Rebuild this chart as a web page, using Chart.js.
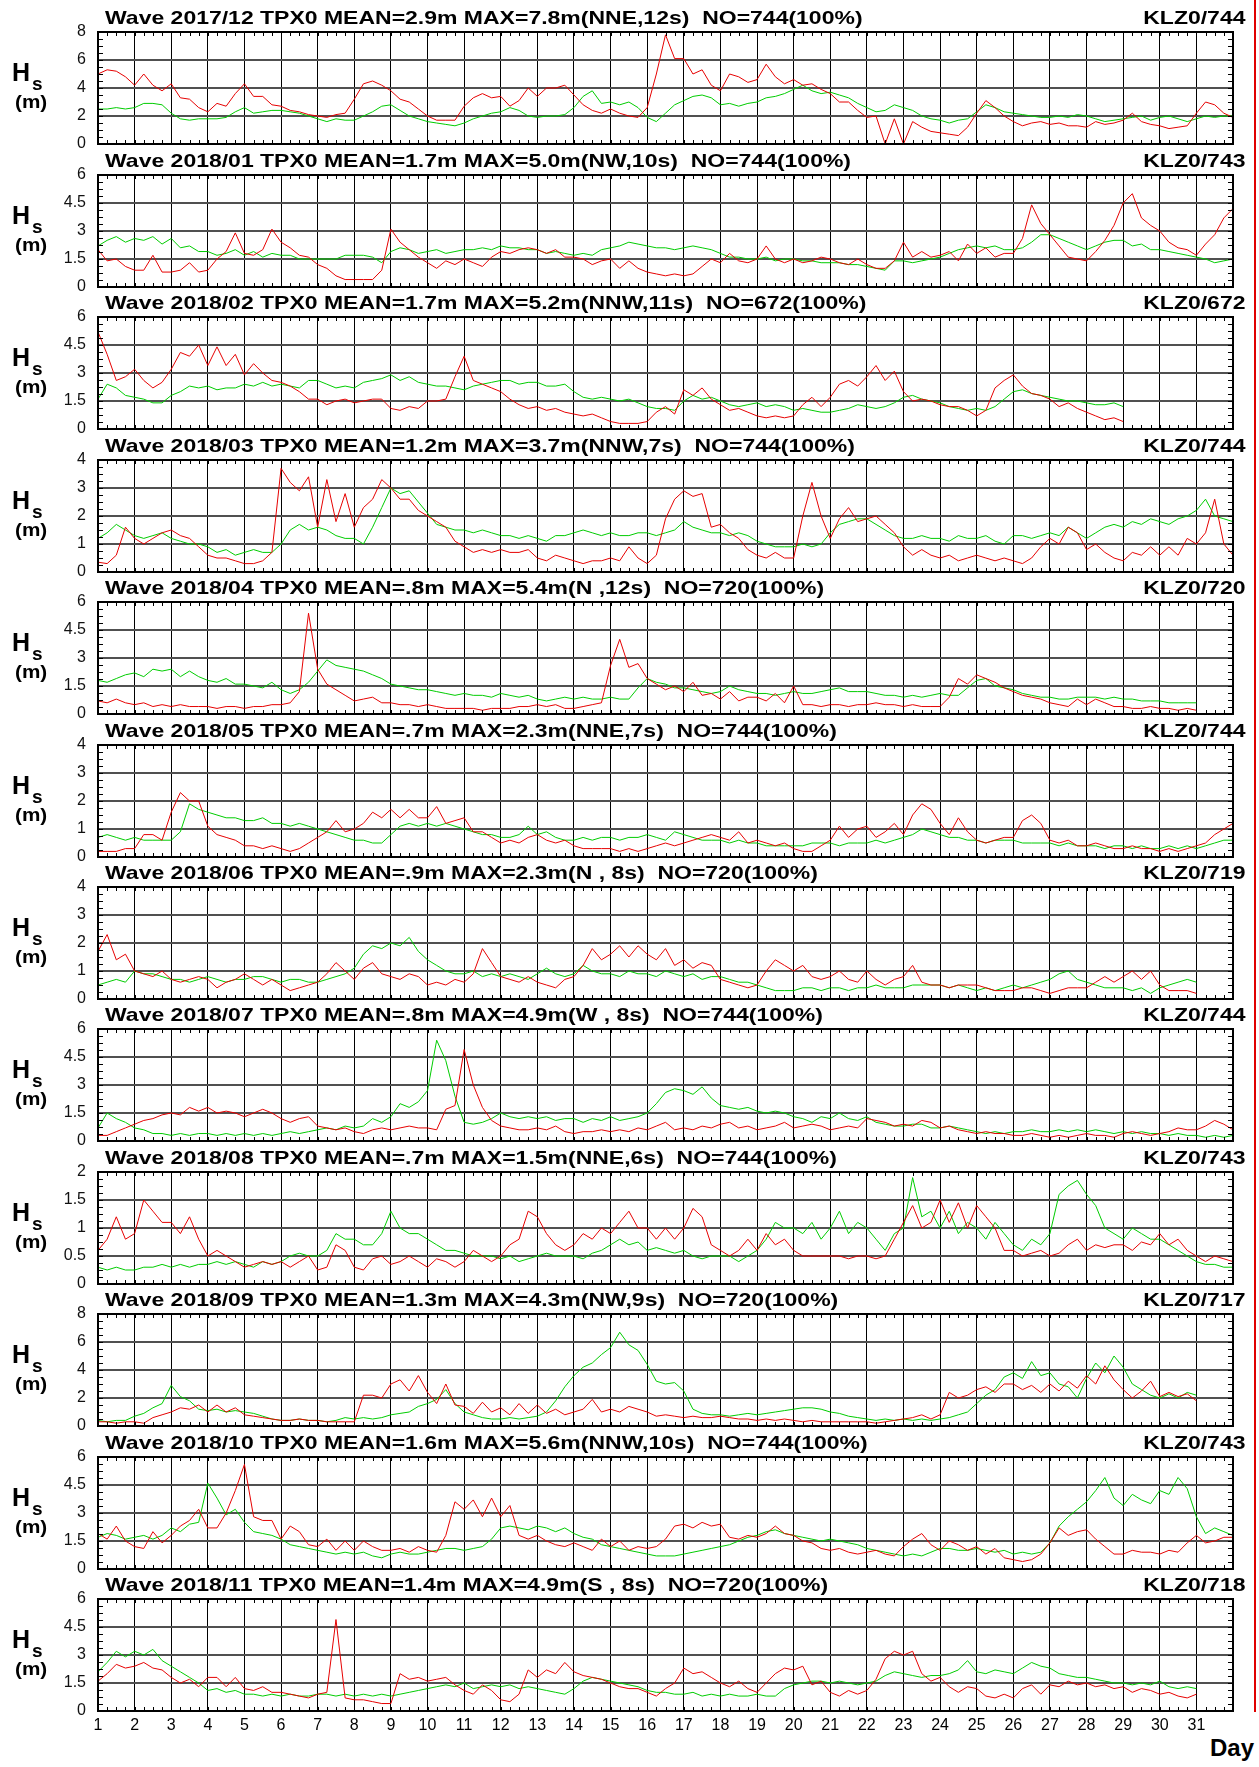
<!DOCTYPE html>
<html>
<head>
<meta charset="utf-8">
<script src="https://cdn.jsdelivr.net/npm/chart.js@4.4.1/dist/chart.umd.min.js"></script>
<style>
  body { margin: 0; background: #fff; }
  #page { position: relative; width: 1259px; height: 1767px; overflow: hidden; background: #fff;
          font-family: "Liberation Sans", Arial, sans-serif; color: #000; }
  canvas { position: absolute; left: 0; }
  .title, .code { position: absolute; font-weight: bold; font-size: 19px; line-height: 1; white-space: pre; }
  .title { left: 105px; transform: scaleX(1.21); transform-origin: 0 0; }
  .code { right: 14px; transform: scaleX(1.21); transform-origin: 100% 0; }
  .hs-h { position: absolute; left: 12px; font-weight: bold; font-size: 25px; line-height: 1; }
  .hs-s { position: absolute; left: 32px; font-weight: bold; font-size: 19px; line-height: 1; }
  .hs-m { position: absolute; left: 15px; font-weight: bold; font-size: 18px; line-height: 1; transform: scaleX(1.15); transform-origin: 0 0; }
  #day { position: absolute; right: 5px; top: 1736px; font-weight: bold; font-size: 24px; line-height: 1; }
  #edge { position: absolute; left: 1254px; top: 0; width: 2px; height: 1712px; background: #e00000; }
</style>
</head>
<body>
<div id="page">
  <div id="edge"></div>
  <div id="day">Day</div>
</div>
<script>
// one panel per month, hourly Hs sampled every 6 h (4 per day) + month end value
const samplesPerDay = 4;
const months = ['2017/12', '2018/01', '2018/02', '2018/03', '2018/04', '2018/05',
                '2018/06', '2018/07', '2018/08', '2018/09', '2018/10', '2018/11'];
const titles = [
  'Wave 2017/12 TPX0 MEAN=2.9m MAX=7.8m(NNE,12s)  NO=744(100%)',
  'Wave 2018/01 TPX0 MEAN=1.7m MAX=5.0m(NW,10s)  NO=744(100%)',
  'Wave 2018/02 TPX0 MEAN=1.7m MAX=5.2m(NNW,11s)  NO=672(100%)',
  'Wave 2018/03 TPX0 MEAN=1.2m MAX=3.7m(NNW,7s)  NO=744(100%)',
  'Wave 2018/04 TPX0 MEAN=.8m MAX=5.4m(N ,12s)  NO=720(100%)',
  'Wave 2018/05 TPX0 MEAN=.7m MAX=2.3m(NNE,7s)  NO=744(100%)',
  'Wave 2018/06 TPX0 MEAN=.9m MAX=2.3m(N , 8s)  NO=720(100%)',
  'Wave 2018/07 TPX0 MEAN=.8m MAX=4.9m(W , 8s)  NO=744(100%)',
  'Wave 2018/08 TPX0 MEAN=.7m MAX=1.5m(NNE,6s)  NO=744(100%)',
  'Wave 2018/09 TPX0 MEAN=1.3m MAX=4.3m(NW,9s)  NO=720(100%)',
  'Wave 2018/10 TPX0 MEAN=1.6m MAX=5.6m(NNW,10s)  NO=744(100%)',
  'Wave 2018/11 TPX0 MEAN=1.4m MAX=4.9m(S , 8s)  NO=720(100%)'
];
const stationCodes = ['KLZ0/744', 'KLZ0/743', 'KLZ0/672', 'KLZ0/744', 'KLZ0/720', 'KLZ0/744',
                      'KLZ0/719', 'KLZ0/744', 'KLZ0/743', 'KLZ0/717', 'KLZ0/743', 'KLZ0/718'];
const yMax = [8, 6, 6, 4, 6, 4, 4, 6, 2, 8, 6, 6];
const dayLabels = ['1','2','3','4','5','6','7','8','9','10','11','12','13','14','15','16',
                   '17','18','19','20','21','22','23','24','25','26','27','28','29','30','31'];

// red = observed
const red201712 = [
  5.0,5.3,5.2,4.8, 4.2,5.0,4.2,3.8, 4.3,3.3,3.2,2.6, 2.3,2.9,2.7,3.6,
  4.3,3.4,3.4,2.8, 2.7,2.4,2.3,2.1, 2.0,1.9,2.1,2.2, 3.2,4.3,4.5,4.2,
  3.8,3.2,3.0,2.5, 2.0,1.7,1.7,1.7, 2.7,3.3,3.6,3.3, 3.4,2.7,3.1,4.0,
  3.4,4.0,4.0,4.2, 3.5,2.8,2.4,2.2, 2.5,2.2,2.0,1.9, 2.6,5.0,7.8,6.1,
  6.1,5.0,5.3,4.2, 3.8,5.0,4.8,4.4, 4.6,5.7,4.8,4.3, 4.6,4.2,4.3,3.9,
  3.6,3.0,3.0,2.4, 1.9,2.0,0.0,1.8, 0.0,1.6,1.2,0.9, 0.8,0.7,0.6,1.2,
  2.2,3.1,2.6,2.0, 1.6,1.3,1.5,1.6, 1.4,1.5,1.3,1.3, 1.2,1.6,1.4,1.5,
  1.7,2.2,1.6,1.4, 1.3,1.1,1.2,1.3, 2.2,3.0,2.8,2.2, 1.9];
const green201712 = [
  2.5,2.5,2.6,2.5, 2.6,2.9,2.9,2.8, 2.2,1.8,1.7,1.8, 1.8,1.8,1.9,2.3,
  2.6,2.2,2.3,2.4, 2.4,2.3,2.2,2.0, 1.8,1.6,1.8,1.7, 1.7,2.0,2.3,2.7,
  2.8,2.4,2.0,1.8, 1.6,1.5,1.4,1.3, 1.5,1.8,2.0,2.2, 2.3,2.6,2.4,2.0,
  1.9,2.0,2.0,2.1, 2.6,3.4,3.8,2.9, 3.0,2.8,3.0,2.6, 1.9,1.6,2.2,2.8,
  3.1,3.4,3.5,3.3, 2.8,2.9,2.7,2.9, 3.0,3.3,3.4,3.6, 3.9,4.2,3.8,3.6,
  3.7,3.5,3.3,2.9, 2.6,2.3,2.4,2.8, 2.6,2.4,2.0,1.8, 1.7,1.5,1.7,1.8,
  2.3,2.8,2.6,2.3, 2.2,2.1,2.0,1.9, 1.9,2.0,1.9,2.1, 2.0,1.8,1.6,1.7,
  1.8,1.9,2.0,1.7, 1.9,2.0,1.8,1.6, 1.8,2.0,1.9,2.0, 2.0];

const red201801 = [
  2.0,1.4,1.5,1.1, 0.9,0.9,1.7,0.8, 0.8,0.9,1.3,0.8, 0.9,1.5,1.9,2.9,
  1.8,1.7,2.0,3.1, 2.4,2.1,1.7,1.6, 1.2,1.0,0.6,0.4, 0.4,0.4,0.4,0.9,
  3.1,2.4,2.0,1.6, 1.3,1.0,1.4,1.2, 1.5,1.3,1.1,1.6, 1.9,1.8,2.0,2.1,
  2.0,1.8,2.0,1.6, 1.6,1.5,1.2,1.4, 1.5,1.0,1.4,1.0, 0.8,0.7,0.6,0.7,
  0.6,0.7,1.1,1.5, 1.3,1.8,1.4,1.3, 1.5,2.2,1.5,1.3, 1.5,1.3,1.4,1.6,
  1.5,1.3,1.2,1.5, 1.2,1.0,1.0,1.4, 2.4,1.6,1.9,1.6, 1.7,1.9,1.4,2.3,
  1.8,2.1,1.6,1.8, 1.8,2.6,4.4,3.4, 2.8,2.2,1.6,1.5, 1.4,1.9,2.5,3.3,
  4.5,5.0,3.7,3.3, 3.0,2.4,2.1,2.0, 1.7,2.3,2.8,3.7, 4.2];
const green201801 = [
  2.2,2.5,2.7,2.4, 2.6,2.5,2.7,2.3, 2.6,2.1,2.2,1.9, 1.9,1.7,1.8,2.0,
  1.7,1.9,1.6,1.8, 1.7,1.7,1.5,1.5, 1.5,1.5,1.5,1.7, 1.7,1.7,1.6,1.3,
  1.9,2.1,2.0,1.8, 1.9,2.0,1.8,1.9, 2.0,2.0,2.1,2.0, 2.2,2.1,2.1,2.0,
  2.0,1.8,1.9,1.8, 1.7,1.8,1.7,2.0, 2.1,2.2,2.4,2.3, 2.2,2.1,2.1,2.0,
  2.1,2.2,2.1,2.0, 1.8,1.6,1.6,1.5, 1.5,1.6,1.4,1.5, 1.5,1.4,1.4,1.3,
  1.3,1.3,1.2,1.2, 1.1,1.0,0.9,1.4, 1.4,1.3,1.4,1.5, 1.6,1.8,2.0,2.1,
  2.2,2.1,2.2,2.0, 2.0,2.1,2.4,2.8, 2.8,2.6,2.4,2.2, 2.0,2.2,2.4,2.5,
  2.5,2.2,2.3,2.0, 2.0,1.9,1.8,1.7, 1.6,1.5,1.3,1.4, 1.5];

const red201802 = [
  5.2,4.0,2.6,2.8, 3.2,2.6,2.2,2.5, 3.2,4.1,3.9,4.5, 3.4,4.4,3.4,4.0,
  2.9,3.5,3.0,2.6, 2.5,2.3,2.0,1.6, 1.6,1.3,1.5,1.6, 1.4,1.5,1.6,1.6,
  1.1,1.0,1.2,1.1, 1.5,1.5,1.6,2.8, 3.9,2.6,2.4,2.2, 2.0,1.6,1.3,1.1,
  1.2,1.0,1.1,0.9, 0.8,0.7,0.8,0.6, 0.4,0.3,0.3,0.3, 0.4,0.9,1.2,0.8,
  2.1,1.8,2.2,1.6, 1.3,1.0,1.1,0.9, 0.7,0.6,0.7,0.6, 0.7,1.3,1.7,1.2,
  1.7,2.4,2.6,2.3, 2.8,3.4,2.6,3.1, 2.0,1.5,1.6,1.5, 1.3,1.2,1.2,1.0,
  0.7,1.0,2.2,2.6, 2.9,2.3,1.9,1.8, 1.6,1.2,1.4,1.1, 0.9,0.7,0.5,0.6,
  0.4];
const green201802 = [
  1.6,2.4,2.2,1.8, 1.7,1.6,1.4,1.4, 1.8,2.0,2.3,2.2, 2.3,2.1,2.2,2.2,
  2.4,2.3,2.5,2.3, 2.4,2.3,2.2,2.6, 2.6,2.4,2.2,2.3, 2.2,2.5,2.6,2.7,
  2.9,2.6,2.8,2.5, 2.4,2.3,2.3,2.2, 2.1,2.3,2.4,2.5, 2.6,2.6,2.4,2.5,
  2.5,2.3,2.3,2.4, 2.0,1.7,1.6,1.7, 1.6,1.5,1.6,1.4, 1.2,1.1,1.1,1.0,
  1.5,1.8,1.6,1.7, 1.5,1.3,1.2,1.3, 1.4,1.2,1.3,1.2, 1.0,1.1,1.0,0.9,
  0.9,1.0,1.1,1.3, 1.2,1.1,1.2,1.4, 1.7,1.8,1.6,1.5, 1.4,1.2,1.1,1.0,
  1.1,1.0,1.2,1.6, 2.0,2.1,1.9,1.8, 1.7,1.6,1.5,1.5, 1.4,1.3,1.3,1.4,
  1.2];

const red201803 = [
  0.35,0.3,0.6,1.6, 1.2,1.0,1.2,1.4, 1.5,1.3,1.2,0.9, 0.6,0.5,0.5,0.4,
  0.3,0.3,0.4,0.7, 3.7,3.2,2.9,3.4, 1.6,3.3,1.8,2.8, 1.6,2.3,2.6,3.3,
  3.0,2.6,2.6,2.2, 2.0,1.8,1.6,1.1, 0.9,0.7,0.8,0.7, 0.8,0.7,0.7,0.8,
  0.5,0.4,0.6,0.5, 0.4,0.3,0.4,0.4, 0.5,0.4,0.9,0.5, 0.3,0.6,1.9,2.6,
  2.9,2.7,2.8,1.6, 1.7,1.4,1.2,0.8, 0.6,0.5,0.7,0.5, 0.5,2.0,3.2,2.0,
  1.2,1.9,2.3,1.8, 1.9,2.0,1.7,1.4, 0.9,0.6,0.8,0.6, 0.5,0.6,0.4,0.5,
  0.6,0.5,0.4,0.5, 0.4,0.3,0.5,0.9, 1.2,1.0,1.6,1.4, 0.8,1.0,0.7,0.5,
  0.4,0.7,0.6,0.9, 0.6,0.9,0.6,1.2, 1.0,1.4,2.6,1.0, 0.6];
const green201803 = [
  1.2,1.4,1.7,1.5, 1.3,1.2,1.3,1.4, 1.2,1.1,1.0,1.0, 0.9,0.7,0.8,0.6,
  0.7,0.8,0.7,0.7, 1.0,1.5,1.7,1.5, 1.6,1.5,1.3,1.2, 1.2,1.0,1.6,2.3,
  3.0,2.8,2.9,2.5, 2.1,1.7,1.6,1.5, 1.5,1.4,1.5,1.4, 1.3,1.3,1.2,1.3,
  1.2,1.1,1.3,1.3, 1.4,1.5,1.4,1.3, 1.4,1.3,1.3,1.4, 1.4,1.3,1.4,1.5,
  1.8,1.6,1.5,1.4, 1.4,1.3,1.4,1.3, 1.1,1.0,0.9,0.9, 0.9,1.0,0.9,1.0,
  1.4,1.7,1.8,1.9, 1.9,1.7,1.5,1.3, 1.2,1.2,1.3,1.2, 1.2,1.1,1.3,1.2,
  1.2,1.3,1.1,1.0, 1.3,1.3,1.2,1.3, 1.4,1.3,1.6,1.4, 1.2,1.4,1.6,1.7,
  1.6,1.8,1.7,1.9, 1.8,1.7,1.9,2.0, 2.2,2.6,2.0,1.9, 1.8];

const red201804 = [
  0.7,0.6,0.8,0.6, 0.5,0.6,0.4,0.5, 0.4,0.5,0.4,0.4, 0.4,0.3,0.4,0.4,
  0.3,0.4,0.4,0.5, 0.5,0.6,1.2,5.4, 2.4,1.6,1.3,1.0, 0.7,0.8,0.9,0.6,
  0.6,0.5,0.5,0.4, 0.5,0.4,0.3,0.3, 0.3,0.3,0.2,0.3, 0.3,0.3,0.4,0.4,
  0.5,0.4,0.5,0.3, 0.3,0.4,0.5,0.6, 2.6,4.0,2.5,2.7, 1.9,1.6,1.3,1.5,
  1.2,1.7,1.0,1.1, 0.8,1.2,0.7,0.9, 0.9,0.7,1.1,0.6, 1.5,0.5,0.5,0.4,
  0.5,0.5,0.4,0.5, 0.5,0.6,0.5,0.5, 0.4,0.5,0.4,0.4, 0.4,0.9,1.9,1.6,
  2.1,1.9,1.7,1.4, 1.2,1.0,0.9,0.8, 0.6,0.5,0.4,0.8, 0.5,0.8,0.6,0.4,
  0.4,0.3,0.3,0.4, 0.3,0.3,0.2,0.3, 0.2];
const green201804 = [
  1.8,1.7,1.9,2.1, 2.2,2.0,2.4,2.3, 2.4,2.0,2.3,2.0, 1.8,1.7,1.9,1.6,
  1.6,1.5,1.4,1.7, 1.3,1.1,1.3,1.7, 2.3,2.9,2.6,2.5, 2.4,2.3,2.1,1.9,
  1.6,1.5,1.4,1.3, 1.3,1.2,1.1,1.0, 1.1,1.0,1.0,0.9, 1.1,1.0,0.9,1.0,
  0.8,0.7,0.8,0.9, 0.8,0.9,0.8,0.8, 0.9,0.8,0.8,1.4, 1.9,1.7,1.6,1.4,
  1.4,1.3,1.2,1.1, 1.2,1.5,1.3,1.2, 1.1,1.1,1.0,1.1, 1.2,1.1,1.1,1.2,
  1.3,1.4,1.2,1.2, 1.2,1.1,1.0,1.0, 0.9,1.0,0.9,1.0, 1.1,1.0,1.0,1.4,
  1.8,1.9,1.5,1.4, 1.3,1.1,1.0,0.9, 0.9,0.8,0.8,0.9, 0.9,0.9,0.8,0.9,
  0.8,0.8,0.7,0.7, 0.7,0.6,0.6,0.6, 0.6];

const red201805 = [
  0.2,0.2,0.2,0.3, 0.3,0.8,0.8,0.6, 1.6,2.3,2.0,2.0, 1.1,0.8,0.7,0.6,
  0.4,0.4,0.3,0.4, 0.3,0.2,0.3,0.5, 0.7,0.9,1.3,0.9, 1.0,1.2,1.6,1.4,
  1.7,1.4,1.7,1.4, 1.4,1.8,1.2,1.3, 1.4,0.9,0.9,0.7, 0.5,0.6,0.5,0.7,
  0.8,0.6,0.5,0.6, 0.4,0.3,0.3,0.3, 0.3,0.2,0.3,0.2, 0.3,0.4,0.5,0.4,
  0.5,0.6,0.7,0.8, 0.7,0.6,0.9,0.5, 0.6,0.5,0.4,0.5, 0.3,0.2,0.2,0.4,
  0.6,1.1,0.7,1.0, 1.1,0.7,0.9,1.2, 0.8,1.5,1.9,1.7, 1.2,0.8,1.4,0.9,
  0.6,0.5,0.6,0.7, 0.7,1.3,1.5,1.2, 0.6,0.5,0.6,0.4, 0.4,0.5,0.4,0.3,
  0.3,0.4,0.3,0.3, 0.2,0.3,0.2,0.3, 0.4,0.5,0.8,1.0, 1.2];
const green201805 = [
  0.7,0.8,0.7,0.6, 0.7,0.6,0.6,0.6, 0.6,0.9,1.9,1.7, 1.6,1.5,1.4,1.4,
  1.3,1.3,1.4,1.2, 1.2,1.1,1.2,1.1, 1.0,0.9,0.8,0.7, 0.6,0.6,0.5,0.5,
  0.8,1.1,1.2,1.1, 1.2,1.1,1.2,1.1, 1.0,0.9,0.8,0.8, 0.7,0.7,0.8,1.1,
  0.8,0.9,0.7,0.6, 0.6,0.7,0.6,0.7, 0.7,0.6,0.7,0.7, 0.8,0.7,0.6,0.9,
  0.8,0.7,0.6,0.6, 0.6,0.5,0.6,0.5, 0.5,0.4,0.4,0.4, 0.4,0.4,0.5,0.5,
  0.5,0.4,0.5,0.5, 0.5,0.6,0.5,0.6, 0.7,0.8,1.0,0.9, 0.8,0.7,0.7,0.6,
  0.6,0.5,0.6,0.6, 0.6,0.5,0.5,0.5, 0.5,0.4,0.5,0.4, 0.4,0.4,0.3,0.4,
  0.4,0.3,0.4,0.3, 0.3,0.4,0.3,0.4, 0.3,0.4,0.5,0.6, 0.6];

const red201806 = [
  1.7,2.3,1.4,1.6, 1.0,0.9,0.8,1.0, 0.7,0.6,0.7,0.8, 0.7,0.4,0.6,0.7,
  0.9,0.7,0.5,0.7, 0.5,0.3,0.4,0.5, 0.6,0.9,1.3,1.0, 0.7,1.1,1.3,0.9,
  0.8,0.7,0.9,0.8, 0.5,0.6,0.5,0.7, 0.6,0.9,1.8,1.3, 0.8,0.7,0.6,0.8,
  0.6,0.5,0.4,0.7, 0.8,1.2,1.8,1.4, 1.6,1.9,1.5,1.9, 1.6,1.4,1.8,1.2,
  1.4,1.1,1.3,1.2, 0.7,0.6,0.5,0.4, 0.5,1.0,1.4,1.2, 1.0,1.2,0.8,0.7,
  0.8,1.0,0.7,0.6, 1.0,0.7,0.5,0.7, 0.8,1.2,0.6,0.5, 0.5,0.4,0.5,0.5,
  0.5,0.4,0.3,0.3, 0.3,0.4,0.4,0.3, 0.2,0.3,0.4,0.4, 0.4,0.6,0.8,0.6,
  0.8,1.0,0.7,1.0, 0.5,0.3,0.3,0.3, 0.2];
const green201806 = [
  0.5,0.6,0.7,0.6, 1.0,0.9,0.9,0.8, 0.7,0.7,0.6,0.7, 0.8,0.7,0.6,0.7,
  0.7,0.8,0.8,0.7, 0.6,0.7,0.7,0.6, 0.6,0.7,0.8,0.9, 1.1,1.6,1.9,1.8,
  2.0,1.9,2.2,1.7, 1.4,1.2,1.0,0.9, 0.9,1.0,0.8,0.9, 0.8,0.9,0.8,0.7,
  0.9,1.1,0.9,0.8, 0.9,1.2,1.0,0.9, 0.9,0.8,1.0,0.9, 0.9,0.8,1.0,0.9,
  0.8,0.9,0.7,0.8, 0.8,0.7,0.6,0.6, 0.5,0.4,0.3,0.3, 0.3,0.4,0.4,0.3,
  0.4,0.4,0.3,0.4, 0.4,0.5,0.4,0.4, 0.4,0.5,0.5,0.5, 0.5,0.4,0.5,0.4,
  0.3,0.4,0.3,0.4, 0.5,0.4,0.5,0.6, 0.7,0.9,1.0,0.7, 0.6,0.5,0.4,0.4,
  0.4,0.3,0.4,0.2, 0.4,0.5,0.6,0.7, 0.6];

const red201807 = [
  0.3,0.3,0.5,0.7, 0.9,1.1,1.2,1.4, 1.5,1.4,1.8,1.6, 1.8,1.5,1.6,1.5,
  1.3,1.5,1.7,1.5, 1.2,1.0,1.2,1.3, 0.8,0.7,0.6,0.7, 0.5,0.4,0.6,0.7,
  0.6,0.7,0.8,0.7, 0.7,0.6,1.7,1.9, 4.9,3.0,1.8,1.1, 0.8,0.7,0.6,0.6,
  0.7,0.6,0.8,0.5, 0.4,0.5,0.5,0.6, 0.5,0.6,0.5,0.7, 0.6,0.8,1.0,0.6,
  0.7,0.6,0.8,0.7, 0.9,1.0,0.7,0.8, 0.6,0.7,0.8,1.0, 0.7,0.8,0.9,0.8,
  0.6,0.7,0.8,0.7, 1.2,1.1,1.0,0.8, 0.9,0.8,1.1,1.0, 0.7,0.8,0.6,0.5,
  0.4,0.5,0.4,0.4, 0.3,0.3,0.4,0.3, 0.2,0.3,0.2,0.3, 0.4,0.3,0.3,0.2,
  0.4,0.5,0.4,0.3, 0.4,0.5,0.7,0.6, 0.6,0.8,1.1,0.9, 0.6];
const green201807 = [
  0.7,1.5,1.2,1.0, 0.7,0.6,0.4,0.4, 0.3,0.4,0.3,0.4, 0.4,0.3,0.4,0.3,
  0.4,0.3,0.4,0.3, 0.4,0.5,0.4,0.5, 0.6,0.7,0.6,0.8, 0.7,0.8,1.2,1.0,
  1.3,2.0,1.8,2.1, 2.7,5.4,4.3,2.4, 1.0,0.9,1.0,1.2, 1.5,1.3,1.2,1.3,
  1.2,1.3,1.1,1.2, 1.2,1.0,1.2,1.1, 1.3,1.1,1.2,1.3, 1.5,2.0,2.6,2.8,
  2.7,2.5,2.9,2.3, 1.9,1.8,1.7,1.8, 1.6,1.5,1.6,1.5, 1.3,1.2,1.0,1.3,
  1.2,1.5,1.2,1.1, 1.3,1.0,0.9,0.8, 0.8,0.9,0.9,0.7, 0.7,0.8,0.7,0.6,
  0.5,0.4,0.5,0.4, 0.5,0.5,0.6,0.5, 0.5,0.6,0.5,0.6, 0.5,0.6,0.5,0.4,
  0.5,0.4,0.5,0.4, 0.4,0.3,0.4,0.3, 0.3,0.2,0.3,0.2, 0.3];

const red201808 = [
  0.6,0.8,1.2,0.8, 0.9,1.5,1.3,1.1, 1.1,0.9,1.2,0.8, 0.5,0.6,0.5,0.4,
  0.3,0.35,0.4,0.35, 0.4,0.3,0.4,0.5, 0.25,0.3,0.7,0.6, 0.3,0.25,0.45,0.5,
  0.35,0.4,0.5,0.4, 0.3,0.45,0.4,0.3, 0.4,0.6,0.5,0.4, 0.5,0.7,0.8,1.3,
  1.2,0.9,0.7,0.6, 0.7,0.9,0.8,1.0, 0.9,1.1,1.3,1.0, 1.0,0.8,1.0,0.8,
  1.0,1.35,1.2,0.7, 0.6,0.5,0.6,0.8, 0.6,0.9,0.7,0.8, 0.6,0.5,0.5,0.5,
  0.5,0.5,0.45,0.5, 0.5,0.45,0.5,0.8, 1.1,1.4,1.0,1.1, 1.5,1.1,1.45,1.0,
  1.4,1.2,1.0,0.6, 0.6,0.5,0.55,0.6, 0.5,0.55,0.7,0.8, 0.6,0.7,0.65,0.7,
  0.7,0.6,0.75,0.7, 0.9,0.7,0.8,0.6, 0.5,0.4,0.5,0.45, 0.4];
const green201808 = [
  0.3,0.25,0.3,0.25, 0.25,0.3,0.3,0.35, 0.3,0.35,0.3,0.35, 0.35,0.4,0.35,0.4,
  0.35,0.3,0.4,0.35, 0.4,0.5,0.55,0.5, 0.5,0.6,0.9,0.8, 0.8,0.7,0.7,0.9,
  1.3,1.0,0.9,0.9, 0.8,0.7,0.6,0.6, 0.55,0.5,0.5,0.5, 0.45,0.5,0.4,0.45,
  0.5,0.55,0.5,0.5, 0.5,0.45,0.55,0.6, 0.7,0.8,0.7,0.75, 0.6,0.65,0.6,0.55,
  0.6,0.5,0.45,0.5, 0.5,0.5,0.4,0.5, 0.6,0.8,1.1,1.0, 1.0,0.9,1.1,0.8,
  1.0,1.3,0.9,1.1, 1.0,0.8,0.6,0.9, 1.0,1.9,1.2,1.3, 1.0,1.3,0.9,1.1,
  1.0,0.8,1.1,0.9, 0.7,0.6,0.8,0.7, 0.9,1.6,1.75,1.85, 1.6,1.4,1.0,0.9,
  0.8,1.0,0.9,0.8, 0.8,0.7,0.6,0.5, 0.4,0.35,0.35,0.3, 0.3];

const red201809 = [
  0.3,0.3,0.2,0.3, 0.3,0.2,0.6,0.8, 1.0,1.3,1.2,1.5, 1.0,1.5,1.0,1.3,
  0.8,0.7,0.6,0.5, 0.4,0.4,0.5,0.4, 0.4,0.3,0.3,0.3, 0.3,2.2,2.2,2.0,
  3.0,3.3,2.5,3.6, 2.4,1.6,3.0,1.5, 1.4,0.9,1.7,1.0, 1.3,0.8,1.6,0.9,
  1.5,0.9,1.2,0.8, 1.0,1.2,1.9,1.0, 1.2,1.0,1.4,1.2, 1.0,0.7,0.8,0.7,
  0.6,0.7,0.6,0.6, 0.7,0.6,0.5,0.5, 0.4,0.5,0.4,0.5, 0.4,0.3,0.4,0.3,
  0.3,0.3,0.3,0.3, 0.3,0.2,0.3,0.4, 0.5,0.6,0.8,0.5, 0.8,2.4,2.0,2.2,
  2.6,2.8,2.4,3.0, 3.0,2.6,2.9,2.4, 3.0,2.5,3.2,2.7, 3.6,3.0,4.3,3.3,
  2.6,2.0,2.5,3.2, 2.1,2.4,2.1,2.3, 1.8];
const green201809 = [
  0.4,0.3,0.4,0.4, 0.7,0.9,1.3,1.6, 2.9,2.1,1.8,1.2, 1.1,1.2,1.0,1.1,
  1.0,0.9,0.7,0.5, 0.4,0.4,0.5,0.4, 0.4,0.3,0.4,0.6, 0.5,0.6,0.5,0.6,
  0.8,0.9,1.0,1.4, 1.6,1.9,2.6,1.6, 1.0,0.8,0.6,0.5, 0.5,0.6,0.5,0.6,
  0.7,1.0,1.8,2.8, 3.6,4.2,4.5,5.1, 5.6,6.7,5.8,5.4, 4.4,3.2,3.0,3.1,
  2.5,1.2,0.9,0.8, 0.8,0.7,0.8,0.9, 0.8,0.9,1.0,1.1, 1.2,1.3,1.3,1.2,
  1.0,0.9,0.7,0.6, 0.5,0.4,0.5,0.4, 0.5,0.4,0.5,0.4, 0.5,0.6,0.8,1.0,
  1.6,2.2,2.6,3.5, 3.8,3.4,4.6,3.6, 3.8,3.0,2.8,2.0, 3.4,4.5,3.8,5.0,
  4.2,3.0,2.6,2.2, 2.0,2.3,2.0,2.4, 2.2];

const red201810 = [
  1.9,1.6,2.3,1.5, 1.2,1.1,2.0,1.4, 1.8,2.3,2.6,3.2, 2.2,2.2,3.0,4.2,
  5.6,2.8,2.6,2.6, 1.6,2.3,2.0,1.3, 1.2,1.6,1.0,1.5, 1.0,1.5,1.2,1.0,
  1.0,1.1,0.9,1.2, 1.0,0.9,1.8,3.6, 3.2,3.7,2.8,3.8, 2.8,3.4,1.8,1.6,
  1.8,1.5,1.3,1.2, 1.4,1.2,1.0,1.6, 1.2,1.5,1.0,1.2, 1.1,1.2,1.6,2.3,
  2.4,2.2,2.5,2.3, 2.4,1.7,1.6,1.8, 1.7,1.9,2.3,1.9, 1.8,1.5,1.4,1.1,
  1.0,1.1,0.9,0.8, 0.9,1.0,0.8,0.7, 1.2,1.6,1.9,1.3, 1.0,1.5,1.3,1.0,
  1.2,0.8,1.1,0.6, 0.5,0.4,0.5,0.8, 1.4,2.2,1.8,2.0, 2.1,1.6,1.2,0.8,
  0.8,1.0,0.9,0.9, 0.8,1.0,0.9,1.4, 1.8,1.4,1.5,1.7, 1.7];
const green201810 = [
  1.7,1.9,1.8,1.6, 1.7,1.8,1.6,1.8, 2.2,2.0,2.4,2.5, 4.6,3.8,2.9,3.2,
  2.5,2.0,1.9,1.8, 1.6,1.3,1.2,1.1, 1.0,0.9,0.8,0.9, 0.8,0.9,0.7,0.6,
  0.8,0.9,0.8,0.8, 0.9,1.0,1.1,1.1, 1.0,1.1,1.2,1.6, 2.2,2.3,2.2,2.1,
  2.3,2.2,2.0,2.2, 1.9,1.7,1.6,1.3, 1.2,1.1,1.0,0.9, 0.8,0.7,0.7,0.7,
  0.8,0.9,1.0,1.1, 1.2,1.3,1.5,1.7, 1.8,2.0,2.1,1.9, 1.8,1.7,1.6,1.5,
  1.6,1.5,1.4,1.3, 1.1,1.0,0.9,0.8, 0.7,0.8,0.7,0.9, 1.1,1.1,1.0,1.0,
  1.1,1.0,0.9,1.0, 0.8,0.9,0.8,0.9, 1.4,2.3,2.8,3.2, 3.6,4.2,4.9,3.8,
  3.4,4.0,3.7,3.5, 4.2,4.0,4.9,4.3, 2.8,1.9,2.2,2.0, 1.8];

const red201811 = [
  1.6,2.0,2.5,2.3, 2.4,2.6,2.3,2.2, 1.8,1.5,1.7,1.3, 1.8,1.8,1.3,1.8,
  1.2,1.1,1.3,1.0, 1.0,0.9,0.8,0.7, 0.9,1.0,4.9,0.7, 0.6,0.6,0.5,0.4,
  0.4,2.0,1.7,1.8, 1.6,1.7,1.8,1.4, 1.1,0.9,1.4,1.1, 0.6,0.5,0.9,2.2,
  1.8,2.2,2.0,2.6, 2.1,1.9,1.8,1.7, 1.5,1.3,1.2,1.2, 1.0,0.8,1.2,1.5,
  2.3,2.0,2.1,1.8, 1.5,1.3,1.6,1.2, 1.0,1.5,2.0,2.3, 2.2,2.4,1.4,1.6,
  1.0,0.8,1.1,0.9, 1.1,1.7,2.8,3.2, 3.0,3.2,2.0,1.6, 1.8,1.3,1.0,1.3,
  1.2,0.8,0.7,0.9, 0.7,1.2,1.4,0.9, 1.4,1.3,1.6,1.4, 1.5,1.3,1.4,1.2,
  1.3,1.0,1.2,1.1, 0.9,1.0,0.8,0.7, 0.9];
const green201811 = [
  2.1,2.6,3.2,2.9, 3.2,3.0,3.3,2.7, 2.4,2.1,1.8,1.5, 1.1,1.2,1.0,1.1,
  0.9,0.9,0.8,0.9, 0.8,0.9,0.8,0.8, 0.9,0.9,0.8,0.9, 0.8,0.9,0.8,0.9,
  0.8,0.9,1.0,1.1, 1.2,1.3,1.4,1.3, 1.5,1.2,1.3,1.4, 1.3,1.4,1.2,1.3,
  1.2,1.1,1.0,0.9, 1.2,1.6,1.8,1.7, 1.6,1.5,1.4,1.3, 1.1,1.0,1.0,0.9,
  0.9,1.0,0.8,0.9, 0.8,0.9,0.8,0.8, 0.9,0.8,0.8,1.2, 1.4,1.5,1.6,1.6,
  1.5,1.6,1.5,1.4, 1.5,1.6,1.9,2.1, 2.0,1.9,1.8,1.9, 1.9,2.0,2.2,2.7,
  2.1,2.0,2.2,2.1, 2.0,2.3,2.6,2.4, 2.3,2.0,1.9,1.8, 1.8,1.7,1.6,1.5,
  1.5,1.4,1.5,1.4, 1.6,1.3,1.2,1.3, 1.2];

const redSeries = [red201712, red201801, red201802, red201803, red201804, red201805,
                   red201806, red201807, red201808, red201809, red201810, red201811];
const greenSeries = [green201712, green201801, green201802, green201803, green201804, green201805,
                     green201806, green201807, green201808, green201809, green201810, green201811];

const COLORS = {
    red: '#e60000',
    green: '#00cc00',
    grid: '#000000',
    hline: '#505050'
};

// page geometry (px)
const PLOT_LEFT = 98;
const PLOT_RIGHT = 1233;
const FIRST_TOP = 32.3;
const STRIDE = 142.45;
const PLOT_H = 112;
const TOP_PAD = 32;
const X_AXIS_H = 26;

const FONT = '"Liberation Sans", Arial, sans-serif';

function toPoints(vals) {
    return vals.map((v, k) => ({ x: 1 + k / samplesPerDay, y: v }));
}

// frame + small inner ticks drawn over the lines
const framePlugin = {
    id: 'frame',
    afterDatasetsDraw(chart) {
        const { ctx, chartArea: a, scales: { x, y } } = chart;
        ctx.save();
        ctx.strokeStyle = '#000';
        ctx.lineWidth = 1;
        ctx.beginPath();
        for (let d = 1; d <= 32; d += 0.25) {
            const px = Math.round(x.getPixelForValue(d)) + 0.5;
            ctx.moveTo(px, a.top); ctx.lineTo(px, a.top + 4);
            ctx.moveTo(px, a.bottom); ctx.lineTo(px, a.bottom - 4);
        }
        const step = y.max / 16;
        for (let k = 1; k < 16; k++) {
            const py = Math.round(y.getPixelForValue(k * step)) + 0.5;
            ctx.moveTo(a.left, py); ctx.lineTo(a.left + 5, py);
            ctx.moveTo(a.right, py); ctx.lineTo(a.right - 5, py);
        }
        ctx.stroke();
        ctx.lineWidth = 2;
        ctx.strokeRect(Math.round(a.left), Math.round(a.top), Math.round(a.right - a.left), Math.round(a.bottom - a.top));
        ctx.restore();
    }
};

function addText(cls, text, top) {
    const el = document.createElement('div');
    el.className = cls;
    el.textContent = text;
    el.style.top = top + 'px';
    document.getElementById('page').appendChild(el);
    return el;
}

function buildPanel(i) {
    const page = document.getElementById('page');
    const isLast = i === months.length - 1;
    const plotTop = Math.round(FIRST_TOP + STRIDE * i);
    const height = TOP_PAD + PLOT_H + X_AXIS_H + 6;

    const canvas = document.createElement('canvas');
    canvas.width = 1259;
    canvas.height = height;
    canvas.style.top = (plotTop - TOP_PAD) + 'px';
    canvas.style.width = '1259px';
    canvas.style.height = height + 'px';
    page.appendChild(canvas);

    addText('title', titles[i], plotTop - 24.5);
    addText('code', stationCodes[i], plotTop - 24.5);
    addText('hs-h', 'H', plotTop + 28);
    addText('hs-s', 's', plotTop + 42);
    addText('hs-m', '(m)', plotTop + 61);

    const max = yMax[i];

    new Chart(canvas.getContext('2d'), {
        type: 'line',
        data: {
            datasets: [
                {
                    data: toPoints(redSeries[i]),
                    borderColor: COLORS.red,
                    borderWidth: 1,
                    pointRadius: 0,
                    tension: 0
                },
                {
                    data: toPoints(greenSeries[i]),
                    borderColor: COLORS.green,
                    borderWidth: 1,
                    pointRadius: 0,
                    tension: 0
                }
            ]
        },
        options: {
            responsive: false,
            animation: false,
            devicePixelRatio: 1,
            events: [],
            layout: {
                autoPadding: false,
                padding: { left: PLOT_LEFT - 40, right: 1259 - PLOT_RIGHT, top: TOP_PAD, bottom: 6 }
            },
            plugins: {
                legend: { display: false },
                tooltip: { enabled: false }
            },
            scales: {
                x: {
                    type: 'linear',
                    min: 1,
                    max: 32,
                    afterFit(scale) { scale.height = X_AXIS_H; },
                    border: { display: false },
                    grid: { color: COLORS.grid, lineWidth: 1, drawTicks: false },
                    ticks: {
                        stepSize: 1,
                        autoSkip: false,
                        maxRotation: 0,
                        maxTicksLimit: 40,
                        padding: 5,
                        // only the bottom panel shows the day numbers
                        color: isLast ? '#000' : 'rgba(0,0,0,0)',
                        font: { family: FONT, size: 16 },
                        callback: v => dayLabels[v - 1] || ''
                    }
                },
                y: {
                    min: 0,
                    max: max,
                    afterFit(scale) { scale.width = 40; },
                    border: { display: false },
                    grid: {
                        drawTicks: false,
                        lineWidth: 2,
                        color: c => (c.tick && c.tick.value > 0 && c.tick.value < max) ? COLORS.hline : 'rgba(0,0,0,0)'
                    },
                    ticks: {
                        stepSize: max / 4,
                        padding: 12,
                        color: '#111',
                        font: { family: FONT, size: 16 },
                        callback: v => String(v)
                    }
                }
            }
        },
        plugins: [framePlugin]
    });
}

for (let i = 0; i < months.length; i++) buildPanel(i);
</script>
</body>
</html>
